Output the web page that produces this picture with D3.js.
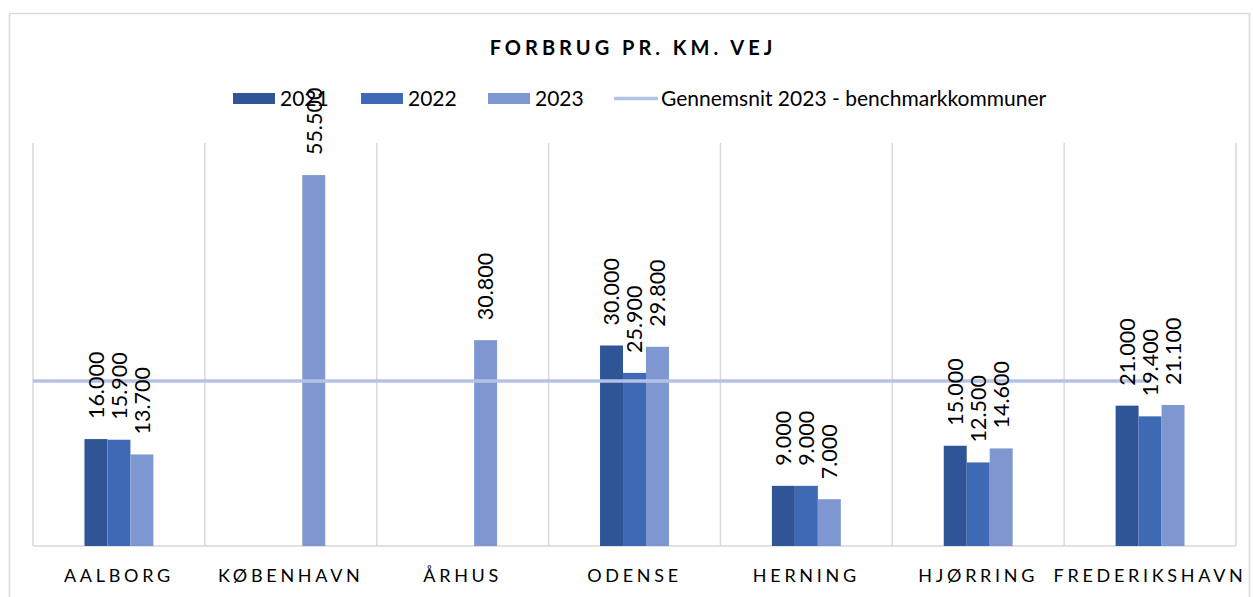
<!DOCTYPE html>
<html>
<head>
<meta charset="utf-8">
<script src="https://cdn.jsdelivr.net/npm/d3@7"></script>
<style>
  body { margin: 0; background: #fff; }
  text { font-family: Lato, "Liberation Sans", sans-serif; fill: #000; }
</style>
</head>
<body>
<div id="chart"></div>
<script>
// data
var categories = ["AALBORG", "KØBENHAVN", "ÅRHUS", "ODENSE", "HERNING", "HJØRRING", "FREDERIKSHAVN"];
var series = ["2021", "2022", "2023"];
var values2021 = [16000, null, null, 30000, 9000, 15000, 21000];
var values2022 = [15900, null, null, 25900, 9000, 12500, 19400];
var values2023 = [13700, 55500, 30800, 29800, 7000, 14600, 21100];
var benchmark2023 = 24700;
var lineLabel = "Gennemsnit 2023 - benchmarkkommuner";
var colors = ["#2f5597", "#3e69b5", "#7f97d0"];
var lineColor = "#b4c2e6";

var width = 1253, height = 597;
var plot = {left: 33, right: 1236, top: 143, bottom: 546};

var svg = d3.select("#chart").append("svg")
    .attr("width", width)
    .attr("height", height);

// outer chart border
svg.append("rect")
    .attr("x", 9.5).attr("y", 13.5)
    .attr("width", 1240).attr("height", 600)
    .attr("fill", "none")
    .attr("stroke", "#d9d9d9")
    .attr("stroke-width", 1.5);

var x0 = d3.scaleBand()
    .domain(categories)
    .range([plot.left, plot.right]);

var x1 = d3.scaleBand()
    .domain(series)
    .range([0, x0.bandwidth()])
    .paddingInner(0)
    .paddingOuter(2.24);

var y = d3.scaleLinear()
    .domain([0, 60000])
    .range([plot.bottom, plot.top + 2]);

var fmt = d3.formatLocale({decimal: ",", thousands: ".", grouping: [3], currency: ["", ""]}).format(",.0f");

// vertical category gridlines
svg.append("g")
    .selectAll("line")
    .data(categories.concat(["end"]))
    .enter()
    .append("line")
        .attr("x1", function(d, i) { return plot.left + i * x0.step(); })
        .attr("x2", function(d, i) { return plot.left + i * x0.step(); })
        .attr("y1", plot.top)
        .attr("y2", plot.bottom)
        .attr("stroke", "#d9d9d9")
        .attr("stroke-width", 1.5);

// baseline
svg.append("line")
    .attr("x1", plot.left).attr("x2", plot.right)
    .attr("y1", plot.bottom).attr("y2", plot.bottom)
    .attr("stroke", "#d9d9d9")
    .attr("stroke-width", 1.5);

var table = [values2021, values2022, values2023];
var rows = [];
categories.forEach(function(c, i) {
    series.forEach(function(s, j) {
        if (table[j][i] !== null) rows.push({cat: c, ser: s, idx: j, v: table[j][i]});
    });
});

// bars
svg.append("g")
    .selectAll("rect")
    .data(rows)
    .enter()
    .append("rect")
        .attr("x", function(d) { return x0(d.cat) + x1(d.ser); })
        .attr("y", function(d) { return y(d.v); })
        .attr("width", x1.bandwidth())
        .attr("height", function(d) { return plot.bottom - y(d.v); })
        .attr("fill", function(d) { return colors[d.idx]; });

// benchmark line
svg.append("line")
    .attr("x1", plot.left).attr("x2", x0(categories[6]) + x0.bandwidth() / 2)
    .attr("y1", y(benchmark2023)).attr("y2", y(benchmark2023))
    .attr("stroke", lineColor)
    .attr("stroke-width", 3.5);

// rotated value labels
svg.append("g")
    .selectAll("text")
    .data(rows)
    .enter()
    .append("text")
        .attr("transform", function(d) {
            var cx = x0(d.cat) + x1(d.ser) + x1.bandwidth() / 2;
            return "translate(" + cx + "," + (y(d.v) - 20) + ") rotate(-90)";
        })
        .attr("dy", "0.36em")
        .style("font-size", "21.5px")
        .text(function(d) { return fmt(d.v); });

// category labels
svg.append("g")
    .selectAll("text")
    .data(categories)
    .enter()
    .append("text")
        .attr("x", function(d) { return x0(d) + x0.bandwidth() / 2; })
        .attr("y", 582)
        .attr("text-anchor", "middle")
        .style("font-size", "18px")
        .style("letter-spacing", "3.7px")
        .text(function(d) { return d; });

// title
svg.append("text")
    .attr("x", 633)
    .attr("y", 55)
    .attr("text-anchor", "middle")
    .style("font-size", "20px")
    .style("font-weight", "bold")
    .style("letter-spacing", "4px")
    .text("FORBRUG PR. KM. VEJ");

// legend
var legendX = [233, 361, 488];
series.forEach(function(s, i) {
    svg.append("rect")
        .attr("x", legendX[i]).attr("y", 93)
        .attr("width", 42).attr("height", 11)
        .attr("fill", colors[i]);
    svg.append("text")
        .attr("x", legendX[i] + 47).attr("y", 106)
        .style("font-size", "21px")
        .text(s);
});
svg.append("line")
    .attr("x1", 614).attr("x2", 658)
    .attr("y1", 98.5).attr("y2", 98.5)
    .attr("stroke", lineColor)
    .attr("stroke-width", 3.5);
svg.append("text")
    .attr("x", 661).attr("y", 106)
    .style("font-size", "21px")
    .text(lineLabel);
</script>
</body>
</html>
